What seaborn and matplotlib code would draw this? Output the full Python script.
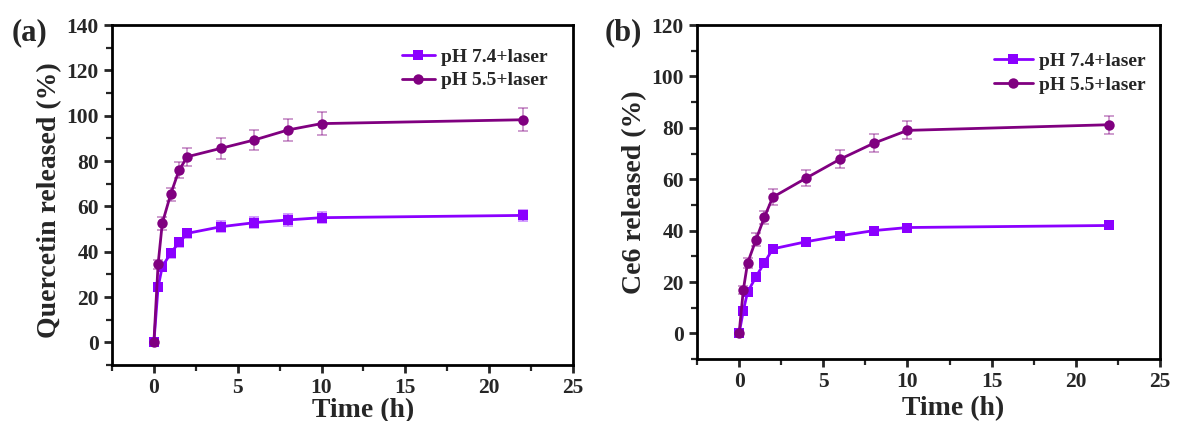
import numpy as np
import pandas as pd
import matplotlib
matplotlib.use("Agg")
import matplotlib.pyplot as plt
import seaborn as sns
from matplotlib.ticker import MultipleLocator

time_h = [0, 0.25, 0.5, 1, 1.5, 2, 4, 6, 8, 10, 22]

a_ph74 = [0, 24.3, 33.4, 39.3, 44.1, 48.1, 51.0, 52.8, 54.0, 55.0, 56.0]
a_ph74_err = [0, 1.5, 2, 2, 2, 2, 2.5, 2.5, 2.5, 2.5, 2.5]
a_ph55 = [0, 34.4, 52.5, 65.3, 76.0, 81.9, 85.6, 89.3, 93.7, 96.5, 98.2]
a_ph55_err = [0, 2, 3, 3, 3.5, 4, 4.5, 4.5, 5, 5, 5]

b_ph74 = [0, 8.8, 16.0, 22.0, 27.5, 32.9, 35.7, 38.0, 40.0, 41.2, 42.0]
b_ph74_err = [0, 1, 1, 1.5, 1.5, 1.5, 1.5, 1.5, 1.5, 1.5, 1.5]
b_ph55 = [0, 16.9, 27.3, 36.4, 45.2, 53.0, 60.5, 67.8, 74.0, 79.0, 81.2]
b_ph55_err = [0, 1.5, 2, 2.5, 2.5, 3, 3, 3.5, 3.5, 3.5, 3.5]

labels = ["pH 7.4+laser", "pH 5.5+laser"]
colors = {"pH 7.4+laser": "#8B00FF", "pH 5.5+laser": "#800080"}
markers = {"pH 7.4+laser": "s", "pH 5.5+laser": "o"}

sns.set_theme(style="ticks")
plt.rcParams['font.family'] = ['Liberation Serif', 'DejaVu Serif']
plt.rcParams['font.weight'] = 'bold'

fig = plt.figure(figsize=(11.8, 4.21), dpi=100)
ax1 = fig.add_axes([0.0949, 0.133, 0.3907, 0.8076])
ax2 = fig.add_axes([0.5907, 0.147, 0.3923, 0.7936])

def panel(ax, y74, e74, y55, e55, ylim, ymax_tick, ylabel, tag, tag_x,
          leg_anchor, handlelen, xlab_pad, xlab_x, ylab_y):
    df = pd.DataFrame({
        "Time": time_h * 2,
        "Released": list(y74) + list(y55),
        "Series": [labels[0]] * len(time_h) + [labels[1]] * len(time_h),
    })
    for lab, y, e in [(labels[0], y74, e74), (labels[1], y55, e55)]:
        ax.errorbar(time_h, y, yerr=e, fmt="none", ecolor=colors[lab],
                    alpha=0.45, elinewidth=1.2, capsize=3.5, capthick=1.2, zorder=2)
    sns.lineplot(data=df, x="Time", y="Released", hue="Series", style="Series",
                 palette=colors, markers=markers, dashes=False, ax=ax,
                 linewidth=2, markersize=7.5, markeredgewidth=0, zorder=3)
    ax.set_xlim(-2.5, 25)
    ax.xaxis.set_major_locator(MultipleLocator(5))
    ax.xaxis.set_minor_locator(MultipleLocator(2.5))
    ax.yaxis.set_minor_locator(MultipleLocator(10))
    ax.set_yticks(np.arange(0, ymax_tick + 1, 20))
    ax.set_ylim(*ylim)
    ax.tick_params(which="major", direction="out", length=6, width=2, labelsize=15.5)
    ax.tick_params(which="minor", direction="out", length=4, width=1.6)
    for lbl in ax.get_xticklabels() + ax.get_yticklabels():
        lbl.set_fontweight("bold")
    for s in ax.spines.values():
        s.set_linewidth(2)
        s.set_color("black")
    ax.set_xlabel("Time (h)", fontsize=20, fontweight="bold", labelpad=xlab_pad)
    ax.set_ylabel(ylabel, fontsize=20, fontweight="bold", labelpad=3)
    ax.xaxis.label.set_x(xlab_x)
    ax.yaxis.label.set_y(ylab_y)
    ax.legend(title=None, frameon=False, loc="upper right", bbox_to_anchor=leg_anchor,
              prop={"weight": "bold", "size": 14}, handlelength=handlelen,
              handletextpad=0.3, labelspacing=0.3, borderaxespad=0)
    ax.text(tag_x, 0.976, tag, transform=ax.transAxes, fontsize=22,
            fontweight="bold", va="center", ha="left")

panel(ax1, a_ph74, a_ph74_err, a_ph55, a_ph55_err, (-10, 140), 140,
      "Quercetin released (%)", "(a)", -0.217, (0.961, 0.954), 1.7, 0, 0.545, 0.485)
panel(ax2, b_ph74, b_ph74_err, b_ph55, b_ph55_err, (-10, 120), 120,
      "Ce6 released (%)", "(b)", -0.199, (0.985, 0.941), 2.0, 3, 0.553, 0.5)

fig.savefig("out.png", dpi=100, facecolor="white")
